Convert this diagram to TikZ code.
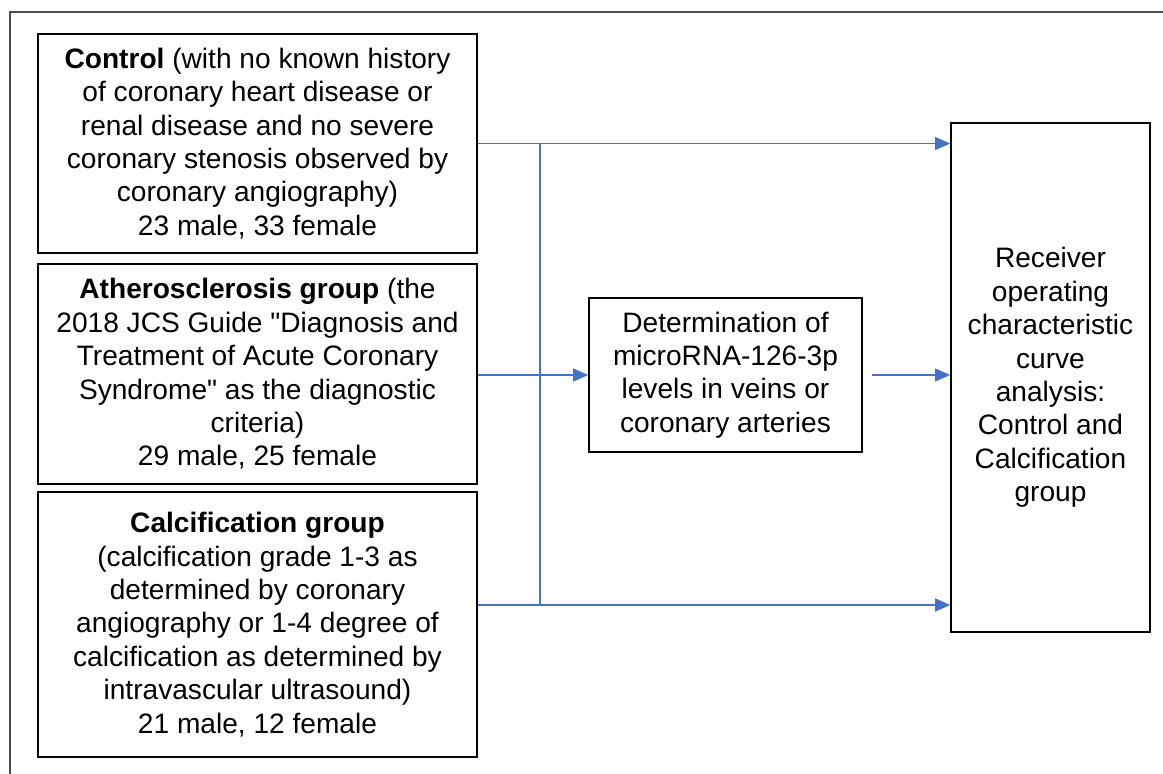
\documentclass[tikz,border=0pt]{standalone}
\usepackage{fontspec}
\setmainfont{Liberation Sans}[Ligatures=TeXOff]
\usetikzlibrary{arrows.meta}
\definecolor{linkblue}{RGB}{68,114,196}

\begin{document}
\begin{tikzpicture}[x=0.02cm, y=-0.02cm,
		box/.style={draw, line width=1pt, inner sep=0pt, align=center, font=\fontsize{16}{19}\selectfont},
		link/.style={draw=linkblue, line width=0.8pt},
		arr/.style={link, -{Triangle[length=0.3cm, width=0.26cm]}}]
					\useasboundingbox (0,0) rectangle (1163,774);
					\draw[line width=0.8pt, black!70] (10,774) -- (10,12) -- (1163,12);
					\node[box, minimum width=8.78cm, minimum height=4.38cm] (A)at(257.5, 143.5) {\textbf{Control} (with no known history\\of coronary heart disease or\\renal disease and no severe\\coronary stenosis observed by\\coronary angiography)\\23 male, 33 female};
					\node[box, minimum width=8.78cm, minimum height=4.4cm] (B)at(257.5, 374) {\textbf{Atherosclerosis group} (the\\2018 JCS Guide "Diagnosis and\\Treatment of Acute Coronary\\Syndrome" as the diagnostic\\criteria)\\29 male, 25 female};
					\node[box, minimum width=8.78cm, minimum height=5.3cm] (C)at(257.5, 624.5) {\textbf{Calcification group}\\(calcification grade 1-3 as\\determined by coronary\\angiography or 1-4 degree of\\calcification as determined by\\intravascular ultrasound)\\21 male, 12 female};
					\node[box, minimum width=5.46cm, minimum height=3.08cm] (M)at(725.5, 375) {Determination of\\microRNA-126-3p\\levels in veins or\\coronary arteries};
					\node[box, minimum width=3.98cm, minimum height=10.18cm] (R)at(1050.5, 377.5) {Receiver\\operating\\characteristic\\curve\\analysis:\\Control and\\Calcification\\group};
					\coordinate (Cout) at (C.east |- 0,605);
					\coordinate (bustop) at (540, 143.5);
					\coordinate (busbot) at (540, 605);
					\draw[arr] (A.east) -- (A.east -| R.west);
					\draw[arr] (B.east |- M.west) -- (M.west);
					\draw[arr] (Cout) -- (Cout -| R.west);
					\draw[link] (bustop) -- (busbot);
					\draw[arr, shorten <=5pt] (M.east) -- (M.east -| R.west);
				\end{tikzpicture}
\end{document}
